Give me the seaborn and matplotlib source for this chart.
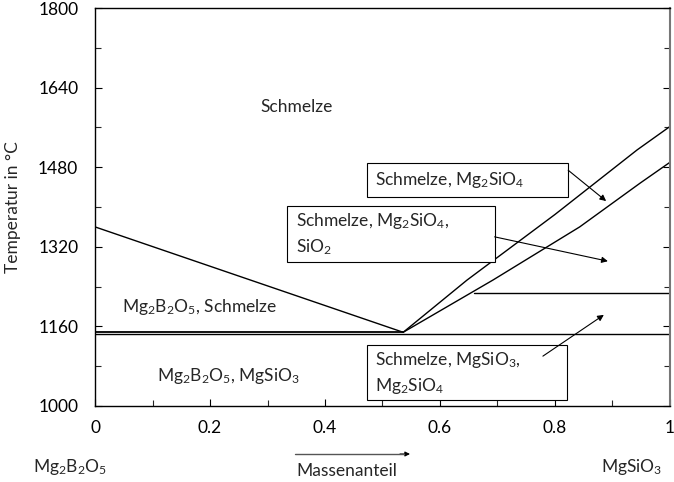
import numpy as np
import pandas as pd
import seaborn as sns
import matplotlib.pyplot as plt
from matplotlib.patches import Rectangle

# phase boundaries (mass fraction MgSiO3, temperature in °C)
liquidus_left_x = [0.0, 0.536]
liquidus_left_y = [1360, 1148]
eutectic_x = [0.0, 0.536]
eutectic_y = [1148, 1148]
solidus_x = [0.0, 1.0]
solidus_y = [1145, 1145]
upper_x = [0.536, 0.647, 0.80, 0.943, 1.0]
upper_y = [1148, 1253, 1385, 1515, 1562]
lower_x = [0.536, 0.692, 0.843, 0.948, 1.0]
lower_y = [1148, 1253, 1360, 1448, 1490]
peritectic_x = [0.66, 1.0]
peritectic_y = [1227, 1227]

xticks = [0, 0.2, 0.4, 0.6, 0.8, 1]
xticklabels = ["0", "0.2", "0.4", "0.6", "0.8", "1"]
yticks = [1000, 1160, 1320, 1480, 1640, 1800]

sns.set_style("ticks")
plt.rcParams["font.family"] = ["Lato", "DejaVu Sans"]
plt.rcParams["mathtext.fontset"] = "custom"
plt.rcParams["mathtext.rm"] = "Lato"
plt.rcParams["mathtext.default"] = "regular"

fig = plt.figure(figsize=(6.74, 4.82), dpi=100)
ax = fig.add_axes([0.141, 0.158, 0.853, 0.825])

for xs, ys, lw in [(liquidus_left_x, liquidus_left_y, 1.0),
                   (eutectic_x, eutectic_y, 1.3),
                   (solidus_x, solidus_y, 1.0),
                   (upper_x, upper_y, 1.0),
                   (lower_x, lower_y, 1.0),
                   (peritectic_x, peritectic_y, 1.0)]:
    sns.lineplot(x=xs, y=ys, color="black", linewidth=lw, sort=False, ax=ax)

ax.set_xlim(0, 1)
ax.set_ylim(1000, 1800)
ax.set_xticks(xticks)
ax.set_xticklabels(xticklabels)
ax.set_yticks(yticks)
ax.set_xticks(np.arange(0.1, 1.0, 0.2), minor=True)
ax.set_yticks(np.arange(1080, 1800, 160), minor=True)
ax.tick_params(which="major", direction="in", length=5, width=0.8, labelsize=12.5,
               right=True, colors="black")
ax.tick_params(which="minor", direction="in", length=4, width=0.8, right=True)
ax.tick_params(axis="x", pad=10)
ax.tick_params(axis="y", pad=12)
for s in ["left", "bottom", "top"]:
    ax.spines[s].set_color("black")
    ax.spines[s].set_linewidth(1.0)
ax.spines["right"].set_color("#777777")
ax.spines["right"].set_linewidth(1.5)
ax.set_ylabel("Temperatur in °C", fontsize=12.5, labelpad=12)
ax.set_xlabel("")

fs = 12.5
ax.text(0.351, 1601, "Schmelze", fontsize=fs, ha="center", va="center")
ax.text(0.047, 1199, "Mg$_2$B$_2$O$_5$, Schmelze", fontsize=fs, ha="left", va="center")
ax.text(0.108, 1060, "Mg$_2$B$_2$O$_5$, MgSiO$_3$", fontsize=fs, ha="left", va="center")

arrow = dict(arrowstyle="-|>", color="black", linewidth=0.8, mutation_scale=9,
             shrinkA=0, shrinkB=0)
boxes = [(0.473, 1420, 0.350, 68), (0.334, 1289, 0.361, 113), (0.473, 1012, 0.348, 111)]
for bx, by, bw, bh in boxes:
    ax.add_patch(Rectangle((bx, by), bw, bh, facecolor="white", edgecolor="black",
                           linewidth=0.8, zorder=3))

ax.annotate("", xy=(0.889, 1412), xytext=(0.823, 1474), arrowprops=arrow)
ax.text(0.487, 1454, "Schmelze, Mg$_2$SiO$_4$", fontsize=fs, ha="left", va="center", zorder=4)

ax.annotate("", xy=(0.892, 1291), xytext=(0.695, 1340), arrowprops=arrow)
ax.text(0.350, 1346, "Schmelze, Mg$_2$SiO$_4$,\nSiO$_2$", fontsize=fs, ha="left", va="center",
        linespacing=1.45, zorder=4)

ax.annotate("", xy=(0.885, 1183), xytext=(0.779, 1100), arrowprops=arrow, zorder=5)
ax.text(0.487, 1066, "Schmelze, MgSiO$_3$,\nMg$_2$SiO$_4$", fontsize=fs, ha="left", va="center",
        linespacing=1.45, zorder=4)

# component labels below the axis
fig.text(70 / 674, 1 - 467 / 482, "Mg$_2$B$_2$O$_5$", fontsize=fs, ha="center", va="center")
fig.text(632 / 674, 1 - 467 / 482, "MgSiO$_3$", fontsize=fs, ha="center", va="center")
fig.text(296 / 674, 1 - 471 / 482, "Massenanteil", fontsize=fs, ha="left", va="center")
fig.add_artist(plt.Line2D([295 / 674, 404 / 674], [1 - 454 / 482, 1 - 454 / 482],
                          color="#555555", linewidth=1.0))
ax.annotate("", xy=(410 / 674, 1 - 454 / 482), xytext=(400 / 674, 1 - 454 / 482),
            xycoords="figure fraction",
            arrowprops=dict(arrowstyle="-|>", color="black", mutation_scale=7,
                            shrinkA=0, shrinkB=0, linewidth=0.8))

fig.savefig("out.png", dpi=100)
